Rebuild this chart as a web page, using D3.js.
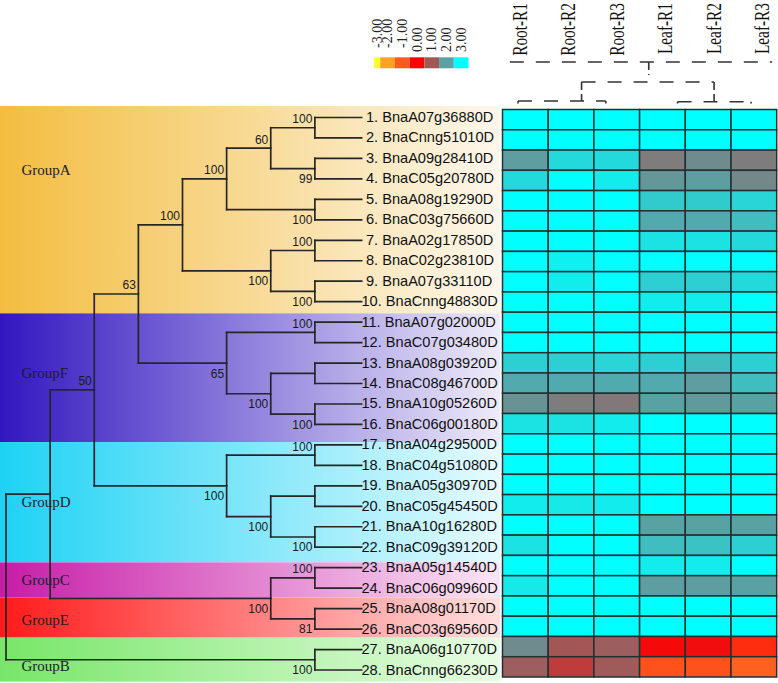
<!DOCTYPE html>
<html><head><meta charset="utf-8">
<script src="https://cdn.jsdelivr.net/npm/d3@7"></script>
<style>body{margin:0;background:#fff} svg{display:block}</style>
</head><body><svg id="c" width="778" height="683"></svg>
<script>
// ---------------- DATA ----------------
const columns = ["Root-R1","Root-R2","Root-R3","Leaf-R1","Leaf-R2","Leaf-R3"];
const genes = ["BnaA07g36880D","BnaCnng51010D","BnaA09g28410D","BnaC05g20780D","BnaA08g19290D",
  "BnaC03g75660D","BnaA02g17850D","BnaC02g23810D","BnaA07g33110D","BnaCnng48830D",
  "BnaA07g02000D","BnaC07g03480D","BnaA08g03920D","BnaC08g46700D","BnaA10g05260D",
  "BnaC06g00180D","BnaA04g29500D","BnaC04g51080D","BnaA05g30970D","BnaC05g45450D",
  "BnaA10g16280D","BnaC09g39120D","BnaA05g14540D","BnaC06g09960D","BnaA08g01170D",
  "BnaC03g69560D","BnaA06g10770D","BnaCnng66230D"];
const expr = [
  [3,3,3,3,3,3],
  [3,3,3,3,3,3],
  [1.95,2.6,2.6,1.5,1.7,1.5],
  [2.6,3,2.8,1.85,1.95,1.65],
  [3,3,3,2.45,2.45,2.55],
  [3,3,3,2.1,2.1,2.3],
  [3,3,3,2.7,2.7,2.6],
  [3,2.85,3,3,3,3],
  [3,2.8,3,2.5,2.5,2.6],
  [3,3,3,2.8,2.8,3],
  [3,3,3,3,3,3],
  [3,3,3,3,3,3],
  [2.5,2.5,2.55,2.5,2.3,2.5],
  [2.1,2.1,2.1,2.1,1.95,2.3],
  [1.8,1.5,1.45,2.0,1.9,2.0],
  [2.7,2.7,2.8,3,3,3],
  [3,3,3,3,3,3],
  [3,3,3,3,3,3],
  [3,3,3,3,3,3],
  [2.8,2.75,2.8,3,3,3],
  [3,3,3,2.0,2.0,2.0],
  [2.7,3,3,2.3,2.35,2.5],
  [3,3,3,2.8,2.8,3],
  [2.75,3,3,1.95,1.95,2.0],
  [3,3,3,3,3,3],
  [3,3,3,3,3,3],
  [1.7,1.0,1.1,0.1,0.15,-0.5],
  [1.1,0.7,1.05,-0.9,-0.9,-1.1]
];
const legendValues = [-3,-2,-1,0,1,2,3];
const legendColors = ["#ffff2a","#ffa320","#ff5a1e","#ff0000","#a35656","#5aa1a4","#00ffff"];
// groups: name, band extent in row units, gradient colours
const groups = [
  {name:"GroupA", from:-0.56, to:9.57,  c0:"#f3bd40", c1:"#fdf7ec"},
  {name:"GroupF", from:9.57,  to:15.86, c0:"#3217c0", c1:"#eeebf9"},
  {name:"GroupD", from:15.86, to:21.74, c0:"#1ed2f4", c1:"#e6fbff"},
  {name:"GroupC", from:21.74, to:23.45, c0:"#c71ca8", c1:"#fbe6f5"},
  {name:"GroupE", from:23.45, to:25.42, c0:"#ff1a1a", c1:"#ffe0e0"},
  {name:"GroupB", from:25.42, to:27.57, c0:"#78e668", c1:"#e8fde4"}
];
// phylogenetic tree: d = node depth, b = bootstrap, p = label above/below
const tree = {d:0, children:[
 {d:1, children:[
   {d:2, b:"50", p:"a", children:[
     {d:3, b:"63", p:"a", children:[
       {d:4, b:"100", p:"a", children:[
         {d:5, b:"100", p:"a", children:[
           {d:6, b:"60", p:"a", children:[
             {d:7,b:"100",p:"a",children:[{leaf:0},{leaf:1}]},
             {d:7,b:"99",p:"b",children:[{leaf:2},{leaf:3}]}]},
           {d:7,b:"100",p:"b",children:[{leaf:4},{leaf:5}]}]},
         {d:6,b:"100",p:"b",children:[
           {d:7,b:"100",p:"a",children:[{leaf:6},{leaf:7}]},
           {d:7,b:"100",p:"b",children:[{leaf:8},{leaf:9}]}]}]},
       {d:5,b:"65",p:"b",children:[
         {d:7,b:"100",p:"a",children:[{leaf:10},{leaf:11}]},
         {d:6,b:"100",p:"b",children:[
           {d:7,children:[{leaf:12},{leaf:13}]},
           {d:7,b:"100",p:"b",children:[{leaf:14},{leaf:15}]}]}]}]},
     {d:5,b:"100",p:"b",children:[
       {d:7,b:"100",p:"a",children:[{leaf:16},{leaf:17}]},
       {d:6,b:"100",p:"b",children:[
         {d:7,children:[{leaf:18},{leaf:19}]},
         {d:7,b:"100",p:"b",children:[{leaf:20},{leaf:21}]}]}]}]},
   {d:6,b:"100",p:"b",children:[
     {d:7,b:"100",p:"a",children:[{leaf:22},{leaf:23}]},
     {d:7,b:"81",p:"b",children:[{leaf:24},{leaf:25}]}]}]},
 {d:7,b:"100",p:"b",children:[{leaf:26},{leaf:27}]}]};
const leafDepth = 8.06;
// column dendrogram (column units, merge heights)
const colDendroH = [
  {u0:0.16, u1:5.9,  h:4},
  {u0:1.73, u1:4.63, h:2.07},
  {u0:0.34, u1:2.26, h:0.24},
  {u0:3.83, u1:5.44, h:0.17}
];
const colDendroV = [
  {u:3.2,  h0:4,    h1:2.75},
  {u:1.73, h0:2.07, h1:0.24},
  {u:4.63, h0:2.07, h1:0.17},
  {u:0.34, h0:0.24, h1:0}, {u:2.26, h0:0.24, h1:0},
  {u:3.83, h0:0.17, h1:0}, {u:5.44, h0:0.17, h1:0}
];

// ---------------- DRAW ----------------
const svg = d3.select("#c");
const SERIF = "'Liberation Serif','Times New Roman',serif";
const SANS = "'Liberation Sans',Arial,sans-serif";

const color = d3.scaleLinear().domain(legendValues).range(legendColors).interpolate(d3.interpolateRgb).clamp(true);
const rowY = d3.scaleLinear().domain([0,27]).range([117.5,670]);
const depthX = d3.scaleLinear().domain([0,8]).range([6,359]);

// group bands
const defs = svg.append("defs");
groups.forEach((g,i)=>{
  const lg = defs.append("linearGradient").attr("id","g"+i).attr("x1",0).attr("x2",1).attr("y1",0).attr("y2",0);
  lg.append("stop").attr("offset",0).attr("stop-color",g.c0);
  lg.append("stop").attr("offset",1).attr("stop-color",g.c1);
});
svg.append("g").selectAll("rect").data(groups).join("rect")
  .attr("x",0).attr("width",500)
  .attr("y",d=>rowY(d.from)).attr("height",d=>rowY(d.to)-rowY(d.from))
  .attr("fill",(d,i)=>`url(#g${i})`);
const labelFrac = [0.31,0.46,0.5,0.51,0.55,0.64];
svg.append("g").selectAll("text").data(groups).join("text")
  .attr("x",21.5)
  .attr("y",(d,i)=>rowY(d.from)+(rowY(d.to)-rowY(d.from))*labelFrac[i]+5)
  .attr("font-family",SERIF).attr("font-size",15).attr("fill","#1c1c2a")
  .text(d=>d.name);

// tree
const root = d3.hierarchy(tree);
root.eachAfter(n=>{
  if(n.data.leaf!==undefined){ n.ty = rowY(n.data.leaf); n.tx = depthX(leafDepth); }
  else { n.ty = (n.children[0].ty + n.children[n.children.length-1].ty)/2; n.tx = depthX(n.data.d); }
});
const tg = svg.append("g").attr("stroke","#262626").attr("stroke-width",1.7).attr("fill","none").attr("stroke-linecap","square");
root.each(n=>{
  if(!n.children) return;
  const c = n.children;
  tg.append("line").attr("x1",n.tx).attr("x2",n.tx).attr("y1",c[0].ty).attr("y2",c[c.length-1].ty);
  c.forEach(ch=>tg.append("line").attr("x1",n.tx).attr("x2",ch.tx).attr("y1",ch.ty).attr("y2",ch.ty));
});
// bootstrap labels
const boots = root.descendants().filter(n=>n.data.b);
svg.append("g").selectAll("text").data(boots).join("text")
  .attr("x",n=>n.tx-2.5)
  .attr("y",n=>n.data.p==="a" ? n.ty-4.5 : n.ty+14.5)
  .attr("text-anchor","end").attr("font-family",SANS).attr("font-size",12).attr("fill","#1a1a1a")
  .text(n=>n.data.b);

// gene labels
svg.append("g").selectAll("text").data(genes).join("text")
  .attr("x",(d,i)=> depthX(leafDepth) + (i<9 ? 4.3 : -0.2))
  .attr("y",(d,i)=>rowY(i)+4.5)
  .attr("font-family",SANS).attr("font-size",14.6).attr("fill","#111")
  .text((d,i)=>`${i+1}. ${d}`);

// heatmap
const hx = d3.scaleBand().domain(columns).range([502.5,776.7]);
const hy = d3.scaleBand().domain(d3.range(genes.length)).range([109.5,677]);
const cells = [];
expr.forEach((r,i)=>r.forEach((v,j)=>cells.push({i,j,v})));
svg.append("g").selectAll("rect").data(cells).join("rect")
  .attr("x",d=>hx(columns[d.j])).attr("y",d=>hy(d.i))
  .attr("width",hx.bandwidth()).attr("height",hy.bandwidth())
  .attr("fill",d=>color(d.v)).attr("stroke","#243030").attr("stroke-width",1.5);

// column labels
const lx = d3.scalePoint().domain(columns).range([519,761.5]);
svg.append("g").selectAll("text").data(columns).join("text")
  .attr("transform",d=>`translate(${lx(d)+7.5},3) rotate(-90) scale(0.73,1)`)
  .attr("text-anchor","end").attr("font-family",SERIF).attr("font-size",21).attr("fill","#111")
  .text(d=>d);

// column dendrogram
const ux = d3.scaleLinear().domain([0,6]).range([502.5,776.7]);
const hY = d3.scaleLinear().domain([0,4]).range([103.5,62]);
const cg = svg.append("g").attr("stroke","#333").attr("stroke-width",1.6).attr("fill","none");
cg.selectAll("line.h").data(colDendroH).join("line").attr("class","h")
  .attr("x1",d=>ux(d.u0)).attr("x2",d=>ux(d.u1)).attr("y1",d=>hY(d.h)).attr("y2",d=>hY(d.h))
  .attr("stroke-dasharray","14,12");
cg.selectAll("line.v").data(colDendroV).join("line").attr("class","v")
  .attr("x1",d=>ux(d.u)).attr("x2",d=>ux(d.u)).attr("y1",d=>hY(d.h0)).attr("y2",d=>hY(d.h1))
  .attr("stroke-dasharray","8,4");

// legend
const lb = d3.scaleBand().domain(legendValues).range([365.5,468.5]);
const clipL = 374;
const leg = svg.append("g");
leg.selectAll("rect").data(legendValues).join("rect")
  .attr("x",v=>Math.max(lb(v),clipL)).attr("y",57.3)
  .attr("width",v=>lb(v)+lb.bandwidth()-Math.max(lb(v),clipL)).attr("height",11)
  .attr("fill",v=>color(v));
leg.selectAll("text").data(legendValues).join("text")
  .attr("transform",v=>{const cx=(Math.max(lb(v),clipL)+lb(v)+lb.bandwidth())/2; return `translate(${cx+4.5},${v<0?48:52}) rotate(-90)`;})
  .attr("font-family",SERIF).attr("font-size",14).attr("fill","#222")
  .text(v=>v.toFixed(2));
</script></body></html>
